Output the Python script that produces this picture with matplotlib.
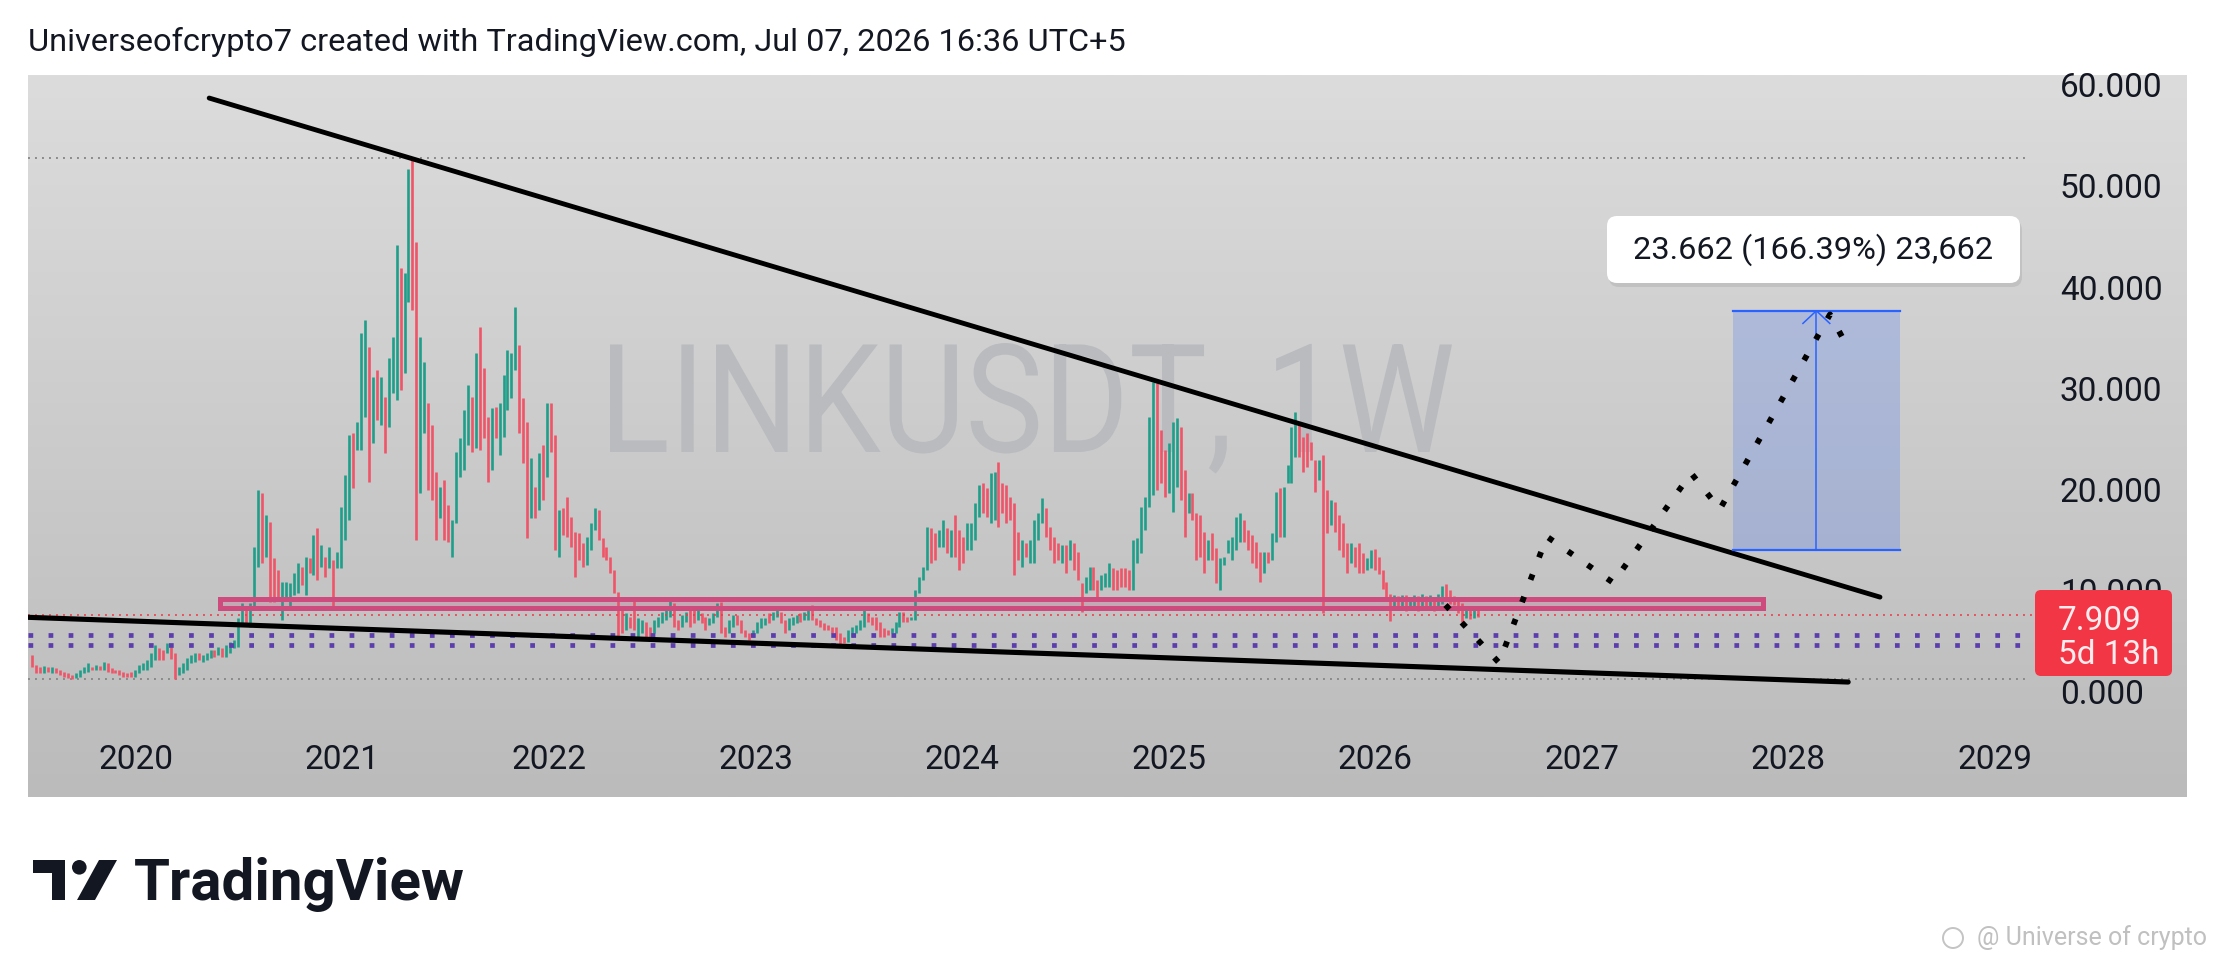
import numpy as np
import matplotlib
matplotlib.use("Agg")
import matplotlib.pyplot as plt
from matplotlib.colors import LinearSegmentedColormap
from matplotlib.patches import Rectangle, FancyBboxPatch, Polygon, Circle, PathPatch
from matplotlib.textpath import TextPath
from matplotlib.font_manager import FontProperties
from matplotlib.transforms import Affine2D

plt.rcParams['font.family'] = ['Roboto', 'DejaVu Sans']

# weekly LINKUSDT bars, first bar = week of 1 Jul 2019
wk_hi = [
    3.96, 2.97, 2.80, 2.87, 2.80, 2.80, 2.64, 2.47, 2.31, 2.14,
    1.98, 2.14, 2.47, 2.80, 3.13, 2.80, 2.97, 2.87, 3.30, 3.13,
    2.64, 2.47, 2.47, 2.31, 2.21, 2.31, 2.47, 2.97, 3.13, 3.46,
    4.12, 4.94, 4.61, 4.45, 5.11, 4.78, 4.12, 2.80, 3.13, 3.63,
    3.96, 4.12, 4.12, 3.96, 4.12, 4.45, 4.45, 4.78, 4.61, 4.94,
    5.27, 5.44, 7.58, 9.07, 8.41, 9.07, 14.67, 20.27, 19.94,
    17.81, 17.15, 13.52, 12.37, 11.22, 11.22, 11.05, 12.04, 13.03, 12.70,
    13.69, 13.52, 15.83, 16.49, 14.84, 13.69, 14.68, 13.36, 14.18, 18.63,
    21.77, 25.72, 25.89, 27.04, 35.78, 37.10, 34.46, 31.49, 32.15, 31.49,
    29.51, 33.30, 35.45, 44.51, 42.21, 41.71, 52.00, 53.10, 44.84, 35.45,
    32.97, 28.85, 26.71, 22.10, 20.61, 21.27, 18.80, 17.31, 24.07, 25.39,
    28.19, 30.67, 29.51, 33.80, 36.44, 32.32, 27.54, 28.36, 28.52, 28.85,
    31.66, 34.13, 33.80, 38.42, 34.62, 29.35, 27.04, 23.41, 20.61, 23.91,
    24.73, 28.85, 28.85, 25.72, 18.30, 18.47, 19.62, 17.64, 16.16, 15.99,
    15.01, 15.67, 16.98, 18.47, 18.30, 15.50, 14.68, 13.69, 12.37, 10.23,
    8.41, 8.08, 7.75, 9.73, 7.58, 7.42, 7.25, 6.76, 7.42, 7.75,
    8.24, 8.57, 9.56, 9.07, 7.42, 7.91, 8.24, 8.41, 8.41, 8.41,
    8.08, 7.75, 7.58, 8.08, 9.07, 9.23, 6.76, 7.42, 7.91, 7.91,
    7.42, 6.43, 6.10, 6.43, 7.25, 7.58, 7.58, 8.08, 8.24, 8.41,
    8.24, 7.42, 7.58, 7.75, 7.91, 8.08, 8.24, 8.57, 8.90, 7.58,
    7.42, 7.09, 6.92, 6.76, 6.76, 6.10, 5.77, 6.43, 6.76, 6.92,
    7.42, 8.57, 8.08, 7.75, 7.75, 7.25, 6.59, 6.43, 6.59, 7.25,
    8.24, 8.24, 7.75, 7.75, 10.39, 11.70, 12.69, 16.65, 16.48, 15.99,
    16.32, 17.31, 16.48, 16.32, 17.80, 16.33, 15.67, 16.98, 16.98, 18.96,
    20.78, 20.94, 20.45, 21.93, 22.10, 23.08, 20.94, 20.78, 19.62, 18.96,
    16.16, 15.34, 15.01, 15.34, 17.31, 17.97, 19.46, 18.47, 16.65, 15.67,
    15.01, 14.84, 14.84, 15.34, 15.01, 14.18, 11.05, 11.70, 12.70, 12.70,
    11.38, 11.87, 12.04, 13.03, 12.53, 12.37, 12.53, 12.53, 12.37, 15.34,
    15.50, 18.63, 19.62, 27.54, 31.00, 30.83, 26.22, 24.24, 24.90, 27.04,
    27.37, 26.55, 22.26, 19.95, 19.95, 17.97, 17.81, 16.16, 15.34, 16.00,
    14.51, 13.52, 13.69, 15.34, 15.67, 17.64, 17.97, 17.31, 16.33, 15.83,
    15.17, 14.18, 14.18, 14.18, 16.00, 20.12, 20.45, 20.61, 22.76, 26.55,
    28.03, 26.71, 25.56, 25.89, 25.06, 23.25, 23.25, 23.74, 20.28, 19.29,
    19.13, 17.81, 16.98, 15.01, 15.01, 14.68, 15.01, 14.02, 13.52, 14.35,
    14.40, 13.60, 12.40, 11.20, 10.00, 9.90, 9.80, 9.90, 9.90, 9.70,
    9.90, 9.80, 10.00, 9.80, 9.90, 9.70, 10.00, 10.80, 11.00, 10.40,
    9.80, 9.70, 9.10, 8.80, 8.40, 8.60, 8.40,
]
wk_lo = [
    2.80, 2.14, 2.14, 2.14, 2.31, 2.14, 2.14, 1.98, 1.74, 1.65,
    1.62, 1.65, 1.74, 2.14, 2.31, 2.47, 2.47, 2.47, 2.47, 2.31,
    2.14, 2.14, 1.98, 1.81, 1.74, 1.74, 1.81, 2.14, 2.47, 2.47,
    2.80, 3.46, 3.46, 3.46, 4.12, 3.60, 1.55, 1.98, 2.14, 2.47,
    3.13, 3.30, 3.46, 3.30, 3.46, 3.63, 3.79, 3.96, 3.79, 3.79,
    4.12, 4.61, 4.78, 6.92, 6.92, 6.76, 8.70, 12.69, 13.02,
    13.69, 9.24, 9.24, 9.57, 7.42, 9.40, 8.74, 9.90, 10.06, 10.89,
    9.90, 12.04, 11.87, 11.38, 12.70, 11.71, 12.53, 8.41, 12.53, 12.53,
    15.30, 17.31, 20.45, 24.24, 24.24, 27.54, 21.11, 24.90, 27.21, 26.71,
    23.91, 26.55, 29.84, 29.18, 30.17, 31.82, 38.91, 38.09, 15.34, 19.95,
    25.89, 20.28, 19.29, 15.34, 17.48, 15.34, 15.17, 13.69, 16.98, 21.60,
    22.26, 24.73, 24.07, 24.40, 24.24, 25.39, 21.11, 22.26, 25.39, 23.74,
    25.56, 28.19, 29.35, 32.15, 25.89, 22.92, 15.50, 17.48, 17.48, 18.30,
    19.29, 21.60, 24.07, 14.35, 13.69, 15.83, 15.67, 14.68, 11.71, 13.36,
    12.70, 12.86, 14.35, 16.33, 15.34, 13.69, 13.36, 12.04, 10.06, 5.77,
    6.10, 6.43, 6.59, 6.43, 5.60, 6.10, 5.77, 5.77, 6.10, 6.76,
    7.09, 7.42, 7.75, 6.76, 6.43, 6.76, 7.25, 6.76, 7.09, 7.42,
    7.09, 6.43, 6.92, 7.09, 7.75, 6.10, 5.77, 6.10, 6.76, 6.92,
    6.10, 5.77, 5.44, 5.77, 6.10, 6.59, 6.92, 7.09, 7.42, 7.75,
    7.09, 6.10, 6.43, 6.92, 7.09, 7.25, 7.42, 7.42, 7.42, 6.92,
    6.76, 6.43, 6.43, 6.10, 5.44, 4.95, 5.11, 5.28, 5.77, 6.10,
    6.43, 6.76, 7.25, 6.92, 6.43, 5.77, 5.77, 5.93, 6.10, 6.10,
    6.76, 7.25, 7.25, 7.42, 7.42, 10.06, 11.37, 12.36, 13.02, 13.35,
    14.67, 14.67, 14.01, 13.68, 13.68, 12.37, 13.03, 14.35, 14.35, 15.34,
    17.64, 17.97, 17.64, 16.98, 17.31, 16.65, 17.97, 16.98, 17.31, 11.87,
    13.36, 12.70, 13.69, 13.03, 13.03, 15.34, 16.98, 15.67, 14.35, 13.03,
    13.36, 13.03, 12.04, 13.36, 12.37, 11.38, 8.25, 10.06, 10.39, 10.39,
    9.57, 10.39, 10.72, 10.72, 10.39, 10.39, 10.72, 10.72, 10.39, 10.39,
    13.03, 14.02, 16.33, 18.63, 19.79, 20.28, 20.94, 19.62, 19.95, 18.14,
    20.61, 19.29, 15.67, 17.97, 17.31, 13.36, 13.69, 12.04, 13.36, 13.36,
    11.05, 10.39, 12.86, 14.02, 13.36, 14.35, 15.17, 15.17, 14.35, 13.03,
    12.53, 11.22, 12.04, 13.03, 13.36, 15.17, 15.67, 15.67, 20.94, 20.94,
    23.58, 23.58, 22.10, 22.59, 23.25, 20.12, 21.27, 8.08, 16.00, 16.82,
    16.16, 14.35, 13.69, 12.04, 13.03, 12.70, 12.04, 12.04, 12.37, 12.53,
    12.40, 12.00, 10.50, 9.40, 7.30, 8.60, 8.40, 8.60, 8.30, 8.50,
    8.40, 8.30, 8.60, 8.40, 8.50, 8.30, 8.50, 9.00, 9.40, 9.00,
    8.90, 8.10, 7.20, 7.60, 7.50, 7.60, 7.70,
]
wk_dir = (
    "d d d u d u d d d d  d u u u u d u d u d  d d d d d d u u u u "
    "u u d d u d d u u u  u u d u u u d u d u  u u u u d u u u d "
    "u d d d u u u u u d  u d u d u d u d u u  u u d u u u d u d u "
    "d u u u d u u d d u  u d d d u d d u u u  u u d u d d d u d u "
    "u u u u d d d u d u  d u d d u d d d d d  d u u u d d d d d d "
    "d u d d u u d d u u  u u u d d u u d d u  d d u u u d d u u d "
    "d d d u u u u d u u  d d u u u d u u d d  d d d d d d d u u u "
    "u u d d d d d d u u  u d d u u u u u d d  u u d u d d d u u u "
    "u d d u u d d d d d  d u d u u u u d d d  d u d u d d d u u d "
    "d u u u d d d d d u  u u u u u d d d u u  u d d u d d d d u d "
    "d u u u u u u d d d  d d u d u u d u u u  u d d d d d u d d u "
    "d d d d u d d d u u  d d d d d u d u d u  u d u d u d u u d d "
    "d d d u d u d"
).split()

# forecast path drawn on the chart (dotted)
path_x = [2026.34, 2026.599, 2026.831, 2027.151, 2027.529, 2027.668, 2028.201, 2028.285]
path_y = [8.90, 3.19, 15.66, 11.11, 21.93, 18.37, 37.64, 34.45]

# trend lines
upper_x, upper_y = [2020.356, 2028.443], [59.04, 9.68]
lower_x, lower_y = [2019.40, 2028.289], [7.74, 1.28]

# support zone
zone_x, zone_y = [2020.406, 2027.875], [8.56, 9.45]
purple_levels = [5.95, 4.95]

# price range target box
target_x, target_y = [2027.73, 2028.54], [14.35, 38.0]
target_text = "23.662 (166.39%) 23,662"

last_price = 7.909
last_label = "5d 13h"
years = [2020, 2021, 2022, 2023, 2024, 2025, 2026, 2027, 2028, 2029]
price_ticks = [60, 50, 40, 30, 20, 10, 0]

n = len(wk_hi)
assert n == len(wk_lo) == len(wk_dir), (n, len(wk_lo), len(wk_dir))
yrs = 2019.5 + np.arange(n) * 7 / 365.25

W, H = 2215, 963
fig = plt.figure(figsize=(W / 100, H / 100), dpi=100)
fig.patch.set_facecolor('white')

# background layer in pixel coords
bg = fig.add_axes([0, 0, 1, 1])
bg.set_xlim(0, W)
bg.set_ylim(H, 0)
bg.axis('off')
cm = LinearSegmentedColormap.from_list('bg', ['#dcdcdc', '#bbbbbb'])
bg.imshow(np.linspace(0, 1, 256).reshape(-1, 1), extent=[28, 2187, 797, 75],
          cmap=cm, aspect='auto', zorder=0)

# symbol watermark, squeezed to the narrow face TradingView uses
tp = TextPath((0, 0), "LINKUSDT, 1W", size=150,
              prop=FontProperties(family='Roboto', weight='normal'))
ext = tp.get_extents()
sx = 842 / ext.width
sy = 109 / ext.y1
wm_tr = Affine2D().translate(-ext.x0, 0).scale(sx, -sy).translate(610, 452)
bg.add_patch(PathPatch(tp, transform=wm_tr + bg.transData, facecolor='#b9bbbf',
                       edgecolor='none', zorder=1))

# chart layer
ax = fig.add_axes([28 / W, 166 / H, 2159 / W, 722 / H])
ax.set_facecolor('none')
ax.set_xlim(2019.479, 2029.929)
ax.set_ylim(-10.09, 61.32)
ax.axis('off')

x_end = 2029.17
ax.plot([2019.479, x_end], [max(wk_hi)] * 2, color='#8a8a8a', lw=1.4,
        ls=(0, (1, 2.6)), zorder=1)
ax.plot([2019.479, x_end], [min(wk_lo)] * 2, color='#8a8a8a', lw=1.4,
        ls=(0, (1, 2.6)), zorder=1)

cols = ['#1f9e89' if d == 'u' else '#f05468' for d in wk_dir]
ax.vlines(yrs, wk_lo, wk_hi, colors=cols, lw=1.9, zorder=3)

for lv in purple_levels:
    ax.plot([2019.479, 2029.19], [lv, lv], color='#5b3dae', lw=3.4,
            ls=(0, (1, 3.25)), zorder=4)
ax.plot([2019.479, 2029.19], [last_price] * 2, color='#f23645', lw=1.4,
        ls=(0, (1, 2.6)), alpha=0.8, zorder=4)

ax.add_patch(Rectangle((zone_x[0], zone_y[0]), zone_x[1] - zone_x[0],
                       zone_y[1] - zone_y[0], facecolor=(0.8, 0.3, 0.5, 0.22),
                       edgecolor='#cd4b7d', lw=3.6, zorder=5))

ax.plot(upper_x, upper_y, color='black', lw=3.5, solid_capstyle='round', zorder=6)
ax.plot(lower_x, lower_y, color='black', lw=3.7, solid_capstyle='round', zorder=6)

ax.add_patch(Rectangle((target_x[0], target_y[0]), target_x[1] - target_x[0],
                       target_y[1] - target_y[0], facecolor=(0.16, 0.38, 1.0, 0.2),
                       edgecolor='none', zorder=5))
for ty in target_y:
    ax.plot(target_x, [ty, ty], color='#2962ff', lw=1.6, zorder=6)
xm = np.mean(target_x)
ax.plot([xm, xm], target_y, color='#2962ff', lw=1.1, zorder=6)
ax.plot([xm - 0.065, xm, xm + 0.065], [target_y[1] - 1.25, target_y[1], target_y[1] - 1.25],
        color='#2962ff', lw=1.1, zorder=6)

ax.plot(path_x, path_y, color='black', lw=4.2, ls=(0, (1, 3.1)), zorder=7)

for yr in years:
    ax.text(yr, -6.43, str(yr), fontsize=24, color='#131722',
            ha='center', va='center', zorder=8)
for p in price_ticks:
    ax.text(2029.313, p, f"{p:.3f}", fontsize=24, color='#131722',
            ha='left', va='center', zorder=8)

# overlay layer in pixel coords
ov = fig.add_axes([0, 0, 1, 1])
ov.set_xlim(0, W)
ov.set_ylim(H, 0)
ov.axis('off')
ov.patch.set_alpha(0)

ov.text(28, 42, "Universeofcrypto7 created with TradingView.com, Jul 07, 2026 16:36 UTC+5",
        fontsize=23.4, color='#131722', ha='left', va='center')

# price tag
ov.add_patch(FancyBboxPatch((2035, 590), 137, 86, boxstyle='round,pad=0,rounding_size=6',
                            facecolor='#f23645', edgecolor='none'))
ov.text(2058, 621, f"{last_price:.3f}", fontsize=24, color='#ffecee', ha='left', va='center')
ov.text(2058, 655, last_label, fontsize=24, color='#ffecee', ha='left', va='center')

# measurement label
ov.add_patch(FancyBboxPatch((1609, 220), 413, 67, boxstyle='round,pad=0,rounding_size=10',
                            facecolor=(0, 0, 0, 0.08), edgecolor='none'))
ov.add_patch(FancyBboxPatch((1607, 216), 413, 67, boxstyle='round,pad=0,rounding_size=10',
                            facecolor='white', edgecolor='none'))
ov.text(1813.5, 250, target_text, fontsize=23.4, color='#131722', ha='center', va='center')

# TradingView logo
ov.add_patch(Polygon([(33, 860), (65, 860), (65, 900), (52, 900), (52, 873), (33, 873)],
                     closed=True, facecolor='#131722', edgecolor='none'))
ov.add_patch(Circle((79.3, 867.3), 7.3, facecolor='#131722', edgecolor='none'))
ov.add_patch(Polygon([(99, 860), (117, 860), (95, 900), (77, 900)],
                     closed=True, facecolor='#131722', edgecolor='none'))
ov.text(134, 900, "TradingView", fontsize=42, fontweight='bold', color='#131722',
        ha='left', va='baseline')

# corner watermark
ov.add_patch(Circle((1953, 938), 10, facecolor='none', edgecolor='#c4c4c4', lw=1.4))
ov.text(2207, 938, "@ Universe of crypto", fontsize=18, color='#c0c0c0',
        ha='right', va='center')

fig.savefig('out.png', dpi=100)
